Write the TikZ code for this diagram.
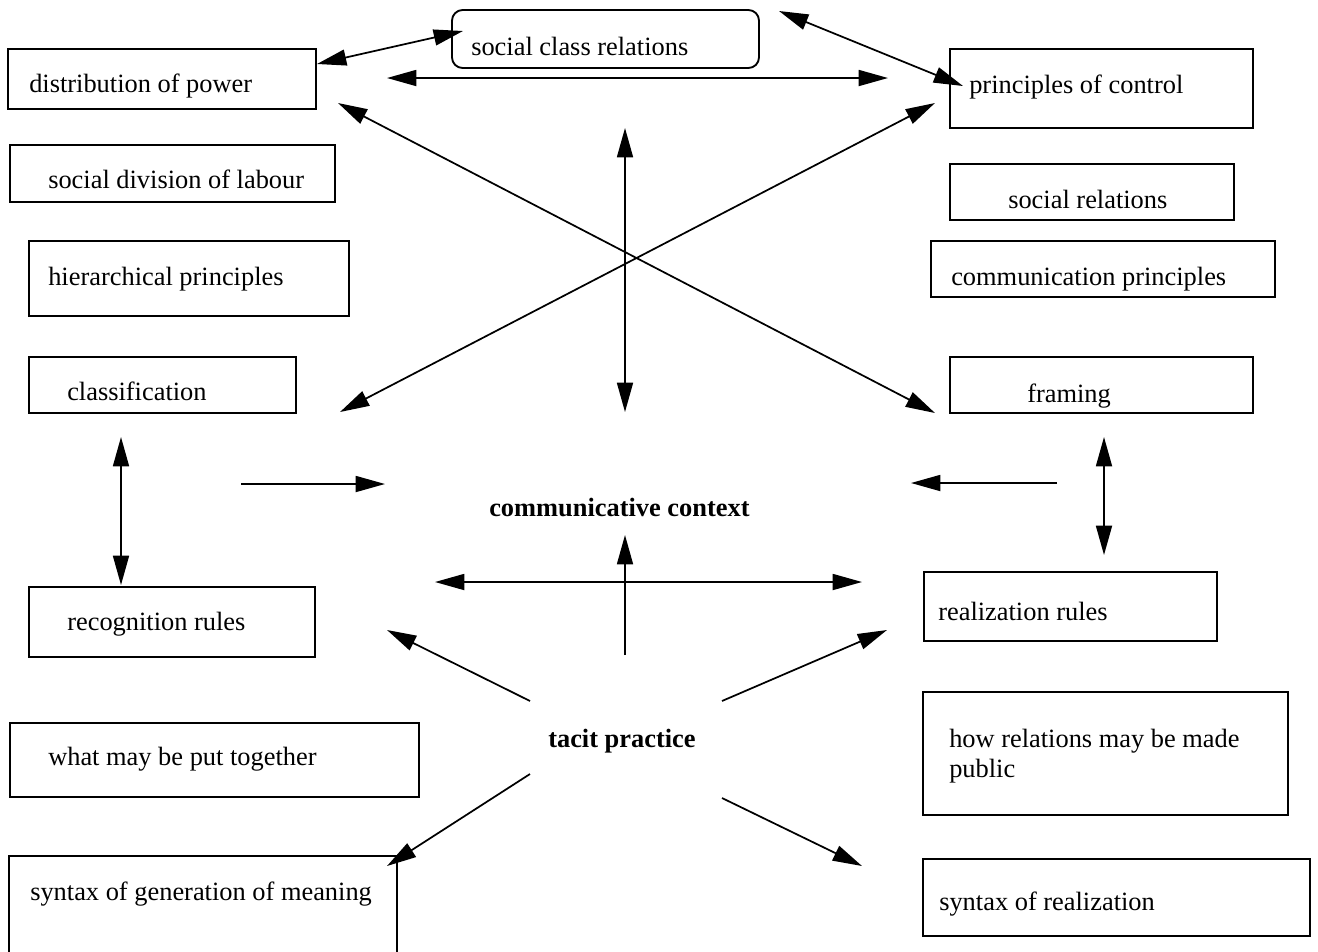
\documentclass[tikz,border=0pt]{standalone}
\usepackage{fontspec}
\setmainfont{Liberation Serif}
\usetikzlibrary{arrows.meta,fit}
\tikzset{
  >={Triangle[length=22pt,width=12pt]},
  box/.style={draw, line width=1.4pt, inner sep=0pt, fit={#1}},
  rbox/.style={draw, line width=1.4pt, inner sep=0pt, rounded corners=8pt, fit={#1}},
  txt/.style={anchor=base west, inner sep=0pt, font=\fontsize{19.8}{22}\selectfont, align=left},
  btxt/.style={anchor=base west, inner sep=0pt, font=\fontsize{19.8}{23}\selectfont\bfseries},
  conn/.style={line width=1.3pt}
}
\begin{document}
\begin{tikzpicture}[x=0.75pt,y=-0.75pt]
\useasboundingbox (0,0) rectangle (1318,951);
\clip (0,0) rectangle (1318,951);
% boxes
\node[box={(8,49) (316,109)}] (dist) {};
\node[rbox={(452,10) (759,68)}] (scr) {};
\node[box={(950,49) (1253,128)}] (poc) {};
\node[box={(10,145) (335,202)}] (sdl) {};
\node[box={(950,164) (1234,220)}] (sr) {};
\node[box={(29,241) (349,316)}] (hp) {};
\node[box={(931,241) (1275,297)}] (cp) {};
\node[box={(29,357) (296,413)}] (cls) {};
\node[box={(950,357) (1253,413)}] (frm) {};
\node[box={(29,587) (315,657)}] (rec) {};
\node[box={(924,572) (1217,641)}] (real) {};
\node[box={(10,723) (419,797)}] (wmp) {};
\node[box={(923,692) (1288,815)}] (how) {};
\node[box={(9,856) (397,990)}] (sgm) {};
\node[box={(923,859) (1310,936)}] (sor) {};
% texts
\node[txt] (tdist) at (29,92) {distribution of power};
\node[txt] (tscr) at (471,55) {social class relations};
\node[txt] (tpoc) at (969,93) {principles of control};
\node[txt] (tsdl) at (48,188) {social division of labour};
\node[txt] (tsr) at (1008,208) {social relations};
\node[txt] (thp) at (48,285) {hierarchical principles};
\node[txt] (tcp) at (951,285) {communication principles};
\node[txt] (tcls) at (67,400) {classification};
\node[txt] (tfrm) at (1027,402) {framing};
\node[txt] (trec) at (67,630) {recognition rules};
\node[txt] (treal) at (938,620) {realization rules};
\node[txt] (twmp) at (48,765) {what may be put together};
\node[txt] (thow) at (949,777) {how relations may be made\\public};
\node[txt] (tsgm) at (30,900) {syntax of generation of meaning};
\node[txt] (tsor) at (939,910) {syntax of realization};
\node[btxt] (cc) at (489,516) {communicative context};
\node[btxt] (tp) at (548,747) {tacit practice};
% arrow end points
\coordinate (a1s) at (317,64);  \coordinate (a1e) at (463,31);
\coordinate (a2s) at (387,78);  \coordinate (a2e) at (888,78);
\coordinate (a3s) at (779,11);  \coordinate (a3e) at (963,86);
\coordinate (a4s) at (340,412); \coordinate (a4e) at (935,103);
\coordinate (a5s) at (338,103); \coordinate (a5e) at (935,413);
\coordinate (a6s) at (625,128); \coordinate (a6e) at (625,412);
\coordinate (a7s) at (121,437); \coordinate (a7e) at (121,585);
\coordinate (a8s) at (1104,437); \coordinate (a8e) at (1104,555);
\coordinate (a9s) at (241,484); \coordinate (a9e) at (385,484);
\coordinate (a10s) at (435,582); \coordinate (a10e) at (862,582);
\coordinate (a11s) at (625,655); \coordinate (a11e) at (625,535);
\coordinate (a12s) at (530,701); \coordinate (a12e) at (387,630);
\coordinate (a13s) at (722,701); \coordinate (a13e) at (887,630);
\coordinate (a14s) at (530,774); \coordinate (a14e) at (387,866);
\coordinate (a15s) at (722,798); \coordinate (a15e) at (862,866);
\coordinate (a16s) at (1057,483); \coordinate (a16e) at (911,483);
% connectors
\draw[conn,<->] (a1s) -- (a1e);
\draw[conn,<->] (a2s) -- (a2e);
\draw[conn,<->] (a3s) -- (a3e);
\draw[conn,<->] (a4s) -- (a4e);
\draw[conn,<->] (a5s) -- (a5e);
\draw[conn,<->] (a6s) -- (a6e);
\draw[conn,<->] (a7s) -- (a7e);
\draw[conn,<->] (a8s) -- (a8e);
\draw[conn,->] (a9s) -- (a9e);
\draw[conn,<->] (a10s) -- (a10e);
\draw[conn,->] (a11s) -- (a11e);
\draw[conn,->] (a12s) -- (a12e);
\draw[conn,->] (a13s) -- (a13e);
\draw[conn,->] (a14s) -- (a14e);
\draw[conn,->] (a15s) -- (a15e);
\draw[conn,->] (a16s) -- (a16e);
\end{tikzpicture}
\end{document}
